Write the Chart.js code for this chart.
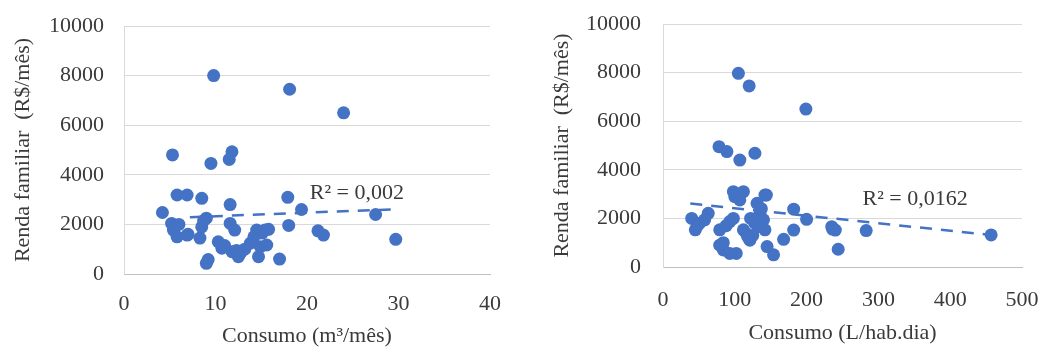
<!DOCTYPE html>
<html>
<head>
<meta charset="utf-8">
<script src="https://cdn.jsdelivr.net/npm/chart.js@4/dist/chart.umd.min.js"></script>
<style>
  body { margin: 0; background: #fff; }
  .wrap { position: relative; width: 1041px; height: 349px; }
  .box { position: absolute; top: 0; height: 349px; }
</style>
</head>
<body>
<div class="wrap">
  <div class="box" style="left:0;width:520px"><canvas id="chartM3"></canvas></div>
  <div class="box" style="left:520px;width:521px"><canvas id="chartLhab"></canvas></div>
</div>
<script>
// consumo mensal (m3/mes) x renda familiar (R$/mes)
const consumoM3 = [9.8, 18.1, 24.0, 5.3, 9.5, 11.8, 11.5, 5.8, 6.9, 8.5, 11.6, 17.9, 4.2, 19.4, 27.5, 29.7,
  18.0, 21.2, 21.8, 5.2, 5.4, 5.8, 6.9, 8.3, 8.5, 9.0, 9.2, 9.0, 11.6, 12.1, 10.3, 10.7, 11.8, 12.7,
  13.8, 14.5, 15.4, 14.9, 14.7, 12.5, 17.0, 15.8, 15.6, 6.0, 13.2, 8.7, 7.0, 11.0, 12.3, 14.2, 15.1];
const rendaM3 = [8000, 7450, 6500, 4800, 4460, 4930, 4620, 3185, 3185, 3050, 2800, 3090, 2480, 2600, 2400, 1400,
  1960, 1740, 1570, 2040, 1770, 1500, 1570, 1450, 1900, 2250, 580, 430, 2040, 1770, 1300, 1040, 900, 830,
  1240, 1770, 1770, 1100, 700, 700, 600, 1800, 1170, 2000, 1000, 2150, 1600, 1150, 950, 1500, 1650];

// consumo per capita (L/hab.dia) x renda familiar (R$/mes)
const consumoLhab = [105, 120, 199, 78, 89, 107, 128, 457, 283, 244, 235, 240, 200, 182, 182, 168, 154, 145, 144,
  40, 45, 51, 63, 58, 79, 79, 84, 93, 102, 93, 98, 100, 98, 112, 107, 112, 116, 121, 131, 135, 140, 133,
  142, 142, 125, 236, 48, 84, 88, 104, 118, 137, 128, 122];
const rendaLhab = [7970, 7450, 6500, 4950, 4750, 4400, 4680, 1320, 1500, 730, 1660, 1520, 1960, 2380, 1520, 1140, 500, 840, 2960,
  2000, 1530, 1800, 2210, 1940, 1530, 900, 700, 560, 560, 1870, 2000, 2890, 3100, 3100, 2760, 1530, 1390, 1100, 2620, 2210, 1940, 1660,
  1530, 2960, 1300, 1560, 1700, 1000, 1700, 3000, 1250, 2400, 1800, 2000];

// linhas de tendencia (extremos)
const trendM3X = [7.2, 29.6];
const trendM3Y = [2290, 2610];
const trendLhabX = [38, 456];
const trendLhabY = [2610, 1320];

// rotulo R2: texto e ancoragem (x, y em valores dos eixos)
const r2M3 = ['R² = 0,002', 20.3, 3270];
const r2Lhab = ['R² = 0,0162', 278, 2800];

const yTicks = [0, 2000, 4000, 6000, 8000, 10000];

const blue = '#4472c4';
const textColor = '#3a3a3a';
const serif = "'Liberation Serif', 'DejaVu Serif', serif";

const toPoints = (xs, ys) => xs.map((x, i) => ({ x: x, y: ys[i] }));

const r2Label = {
    id: 'r2Label',
    afterDatasetsDraw(chart, args, opts) {
        const { ctx, scales } = chart;
        const [text, vx, vy] = opts.label;
        ctx.save();
        ctx.font = '22px ' + serif;
        ctx.fillStyle = textColor;
        ctx.textBaseline = 'middle';
        ctx.textAlign = 'left';
        ctx.fillText(text, scales.x.getPixelForValue(vx), scales.y.getPixelForValue(vy));
        ctx.restore();
    }
};

const makeChart = (id, xs, ys, tx, ty, xMax, xStep, xTitle, label, geo) => {
    const ctx = document.getElementById(id);
    return new Chart(ctx, {
        type: 'scatter',
        data: {
            datasets: [{
                data: toPoints(xs, ys),
                backgroundColor: blue,
                borderColor: blue,
                pointRadius: 6.5,
                pointHoverRadius: 6.5,
                borderWidth: 0,
            }, {
                type: 'line',
                data: toPoints(tx, ty),
                borderColor: blue,
                borderWidth: 2.5,
                borderDash: [12, 9],
                pointRadius: 0,
                fill: false,
            }],
        },
        options: {
            responsive: true,
            maintainAspectRatio: false,
            animation: false,
            events: [],
            layout: { padding: { top: geo.top, right: geo.right, left: 0, bottom: 0 } },
            plugins: {
                legend: { display: false },
                tooltip: { enabled: false },
                r2Label: { label: label },
            },
            scales: {
                x: {
                    type: 'linear',
                    min: 0,
                    max: xMax,
                    grid: { display: false, drawTicks: false },
                    border: { display: true, color: '#bfbfbf', width: 1 },
                    ticks: {
                        stepSize: xStep,
                        padding: geo.xPad,
                        color: textColor,
                        font: { family: serif, size: 22 },
                        maxRotation: 0,
                        callback: (v) => String(v),
                    },
                    title: {
                        display: true,
                        text: xTitle,
                        color: textColor,
                        font: { family: serif, size: 22 },
                        padding: { top: 0, bottom: geo.xTitlePad },
                    },
                    afterFit: (s) => { s.height = geo.xHeight; s.paddingLeft = 0; s.paddingRight = 0; },
                },
                y: {
                    type: 'linear',
                    min: 0,
                    max: 10000,
                    afterBuildTicks: (s) => { s.ticks = yTicks.map(v => ({ value: v })); },
                    grid: { color: '#d9d9d9', lineWidth: 1, drawTicks: false },
                    border: { display: true, color: '#d9d9d9', width: 1 },
                    ticks: {
                        padding: geo.yPad,
                        color: textColor,
                        font: { family: serif, size: 22 },
                        callback: (v) => String(v),
                    },
                    title: {
                        display: true,
                        text: 'Renda familiar  (R$/mês)',
                        color: textColor,
                        font: { family: serif, size: 22 },
                        padding: { top: geo.yTitlePad, bottom: 0 },
                    },
                    afterFit: (s) => { s.width = geo.yWidth; s.paddingTop = 0; s.paddingBottom = 0; },
                },
            },
        },
        plugins: [r2Label],
    });
};

makeChart('chartM3', consumoM3, rendaM3, trendM3X, trendM3Y, 40, 10, 'Consumo (m³/mês)', r2M3,
    { top: 26, right: 30, yWidth: 124, xHeight: 75, xPad: 17, yPad: 20, xTitlePad: 0, yTitlePad: 10 });
makeChart('chartLhab', consumoLhab, rendaLhab, trendLhabX, trendLhabY, 500, 100, 'Consumo (L/hab.dia)', r2Lhab,
    { top: 24, right: 19, yWidth: 143, xHeight: 82, xPad: 20, yPad: 22, xTitlePad: 3, yTitlePad: 29 });
</script>
</body>
</html>
